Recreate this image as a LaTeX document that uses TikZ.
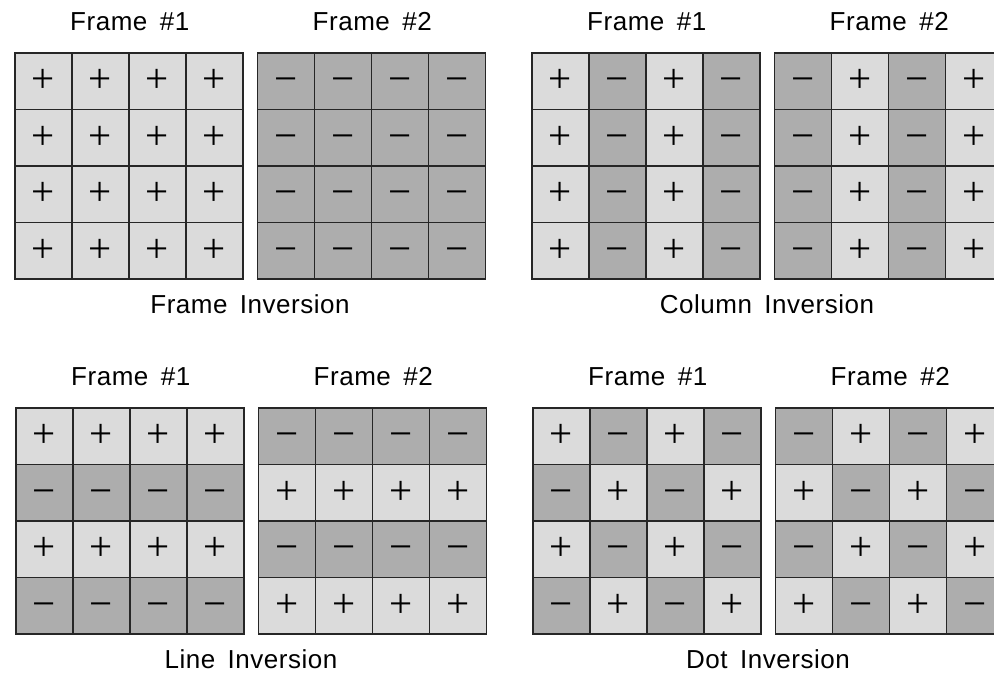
\documentclass[tikz,border=0pt]{standalone}
\usepackage{fontspec}
\setmainfont[WordSpace=1.6,LetterSpace=2]{Liberation Sans}
\newfontfamily\signfont{Liberation Serif}
\usepackage{xcolor}
\usepackage{tikz}
\usetikzlibrary{positioning}

\definecolor{lightcell}{gray}{0.86}
\definecolor{darkcell}{gray}{0.68}

\begin{document}
\begin{tikzpicture}[
    x=1pt, y=-1pt,
    cell/.style={
        rectangle,
        draw=black!85,
        line width=1.5pt,
        minimum width=57pt,
        minimum height=56.5pt,
        inner sep=0pt,
        text height=23pt,
        text depth=0pt,
        font=\signfont\fontsize{41}{41}\selectfont
    },
    title/.style={
        inner sep=0pt,
        font=\fontsize{26}{26}\selectfont
    },
    caption/.style={
        inner sep=0pt,
        font=\fontsize{26}{26}\selectfont
    }
]

\useasboundingbox (0,0) rectangle (994,673);
\clip (0,0) rectangle (994,673);

% four panels, two frames each: a = row parity, b = column parity
\foreach \pan/\px/\py/\a/\b/\name in {
    fi/15/53/0/0/Frame Inversion,
    ci/532/53/0/1/Column Inversion,
    li/16/408/1/0/Line Inversion,
    di/533/408/1/1/Dot Inversion} {
  \foreach \fr/\dx in {1/0, 2/242.5} {
    \foreach \r in {0,...,3} {
      \foreach \c in {0,...,3} {
        \pgfmathtruncatemacro{\p}{mod(\a*\r+\b*\c+\fr-1,2)}
        \ifnum\p=0 \def\cellfill{lightcell}\def\sgn{+}\else\def\cellfill{darkcell}\def\sgn{−}\fi
        \node[cell, fill=\cellfill] (\pan\fr-\r-\c)
          at ({\px+\dx+57*\c+28.5},{\py+56.5*\r+28.25}) {\sgn};
      }
    }
    % frame title
    \node[title, above=21pt of \pan\fr-0-1.north east] (\pan\fr-title) {Frame \#\fr};
  }
  % panel caption
  \coordinate (\pan-base) at ({\px+235},{\py+226});
  \node[caption, below=15pt of \pan-base] (\pan-caption) {\name};
}

\end{tikzpicture}
\end{document}
